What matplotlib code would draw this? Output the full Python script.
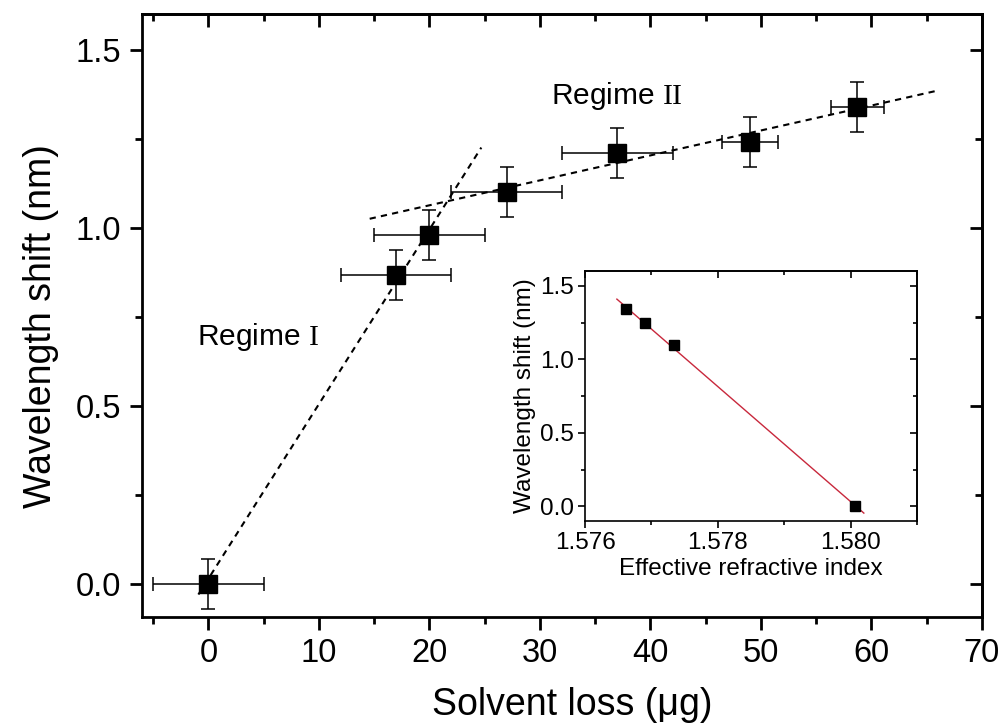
import matplotlib
matplotlib.use("Agg")
import matplotlib.pyplot as plt
from matplotlib.ticker import MultipleLocator, FixedLocator

plt.rcParams['font.family'] = ['Liberation Sans', 'STIXGeneral', 'DejaVu Sans']
plt.rcParams['mathtext.fontset'] = 'custom'
plt.rcParams['mathtext.rm'] = 'Liberation Serif'

# ---------------- data ----------------
solvent_loss = [0, 17, 20, 27, 37, 49, 58.7]
wavelength_shift = [0.0, 0.868, 0.98, 1.10, 1.21, 1.24, 1.338]
solvent_err = [5, 5, 5, 5, 5, 2.5, 2.4]
shift_err = [0.07, 0.07, 0.07, 0.07, 0.07, 0.07, 0.07]

regime1_x = [-0.9, 24.7]
regime1_y = [-0.03, 1.225]
regime2_x = [14.6, 66.0]
regime2_y = [1.025, 1.385]

n_eff = [1.57661, 1.57691, 1.57734, 1.58006]
inset_shift = [1.343, 1.246, 1.098, 0.0]
fit_n = [1.57648, 1.5802]
fit_shift = [1.409, -0.046]

x_ticks = [0, 10, 20, 30, 40, 50, 60, 70]
y_ticks = [0.0, 0.5, 1.0, 1.5]
inset_x_ticks = [1.576, 1.578, 1.580]
inset_x_labels = ["1.576", "1.578", "1.580"]
inset_y_ticks = [0.0, 0.5, 1.0, 1.5]

# ---------------- figure ----------------
fig = plt.figure(figsize=(10.05, 7.28), dpi=100)
ax = fig.add_axes([0.1413, 0.1525, 0.8358, 0.8283])

ax.plot(regime1_x, regime1_y, color='black', lw=1.5, ls=(0, (3, 2.5)), zorder=2)
ax.plot(regime2_x, regime2_y, color='black', lw=1.5, ls=(0, (3, 2.5)), zorder=2)
ax.errorbar(solvent_loss, wavelength_shift, xerr=solvent_err, yerr=shift_err,
            fmt='s', color='black', ms=13, ecolor='black', elinewidth=1.1,
            capsize=5, capthick=1.1, zorder=3)

ax.set_xlim(-6, 70)
ax.set_ylim(-0.093, 1.6)
ax.xaxis.set_major_locator(FixedLocator(x_ticks))
ax.xaxis.set_minor_locator(MultipleLocator(5))
ax.yaxis.set_major_locator(FixedLocator(y_ticks))
ax.yaxis.set_minor_locator(MultipleLocator(0.25))
ax.set_yticklabels([f"{v:.1f}" for v in y_ticks])
ax.tick_params(which='major', direction='out', length=9, width=2, labelsize=23.5, pad=6)
ax.tick_params(which='minor', direction='out', length=5, width=2)
for s in ax.spines.values():
    s.set_linewidth(2)

secx = ax.secondary_xaxis('top')
secx.xaxis.set_major_locator(FixedLocator(x_ticks))
secx.xaxis.set_minor_locator(MultipleLocator(5))
secx.tick_params(which='major', direction='in', length=9, width=2, labeltop=False)
secx.tick_params(which='minor', direction='in', length=5, width=2)
secx.spines['top'].set_linewidth(2)
secy = ax.secondary_yaxis('right')
secy.yaxis.set_major_locator(FixedLocator(y_ticks))
secy.yaxis.set_minor_locator(MultipleLocator(0.25))
secy.tick_params(which='major', direction='in', length=9, width=2, labelright=False)
secy.tick_params(which='minor', direction='in', length=5, width=2)
secy.spines['right'].set_linewidth(2)

ax.set_xlabel("Solvent loss (\u03bcg)", fontsize=27)
ax.set_ylabel("Wavelength shift (nm)", fontsize=27)
ax.xaxis.set_label_coords(0.512, -0.116)
ax.yaxis.set_label_coords(-0.099, 0.483)

ax.text(-1.0, 0.671, "Regime $\\mathrm{I}$", fontsize=21.5, ha='left', va='baseline')
ax.text(31.0, 1.348, "Regime $\\mathrm{II}$", fontsize=21.5, ha='left', va='baseline')

# ---------------- inset ----------------
ins = fig.add_axes([0.5821, 0.2843, 0.3303, 0.3434])
ins.plot(fit_n, fit_shift, color='#c8283c', lw=1.0, zorder=2)
ins.plot(n_eff, inset_shift, 's', color='black', ms=6.5, zorder=3)
ins.set_xlim(1.576, 1.581)
ins.set_ylim(-0.1, 1.6)
ins.xaxis.set_major_locator(FixedLocator(inset_x_ticks))
ins.set_xticklabels(inset_x_labels)
ins.xaxis.set_minor_locator(MultipleLocator(0.001))
ins.yaxis.set_major_locator(FixedLocator(inset_y_ticks))
ins.set_yticklabels([f"{v:.1f}" for v in inset_y_ticks])
ins.yaxis.set_minor_locator(MultipleLocator(0.25))
ins.tick_params(which='major', direction='out', length=5, width=1.2, labelsize=17.5, pad=3)
ins.tick_params(which='minor', direction='out', length=3, width=1.2)
for s in ins.spines.values():
    s.set_linewidth(1.2)
isx = ins.secondary_xaxis('top')
isx.xaxis.set_major_locator(FixedLocator(inset_x_ticks))
isx.xaxis.set_minor_locator(MultipleLocator(0.001))
isx.tick_params(which='major', direction='in', length=5, width=1.2, labeltop=False)
isx.tick_params(which='minor', direction='in', length=3, width=1.2)
isx.spines['top'].set_linewidth(1.2)
isy = ins.secondary_yaxis('right')
isy.yaxis.set_major_locator(FixedLocator(inset_y_ticks))
isy.yaxis.set_minor_locator(MultipleLocator(0.25))
isy.tick_params(which='major', direction='in', length=5, width=1.2, labelright=False)
isy.tick_params(which='minor', direction='in', length=3, width=1.2)
isy.spines['right'].set_linewidth(1.2)
ins.set_xlabel("Effective refractive index", fontsize=17.5, labelpad=3)
ins.set_ylabel("Wavelength shift (nm)", fontsize=17.5, labelpad=3)

fig.savefig("out.png", dpi=100)
